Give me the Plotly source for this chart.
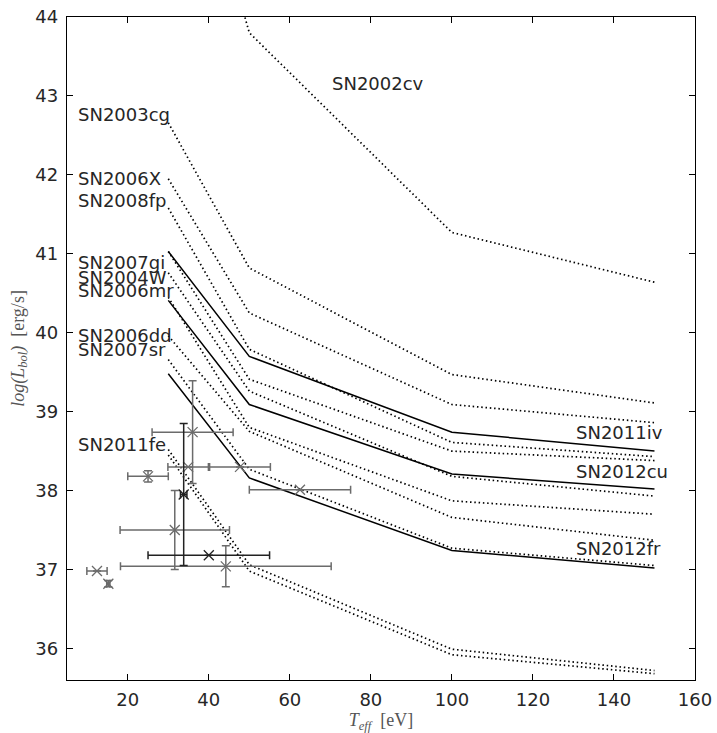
import plotly.graph_objects as go

# ---- model grid (effective temperature, eV) ----
T_grid = [30, 50, 100, 150]

# dotted model curves: log(L_bol) at T_grid
dotted_names = ["SN2002cv", "SN2003cg", "SN2006X", "SN2008fp", "SN2007gi",
                "SN2004W", "SN2006mr", "SN2006dd", "SN2007sr", "SN2011fe", "SN2011fe b"]
dotted_L = [
    [47.4, 43.80, 41.27, 40.64],
    [42.66, 40.82, 39.47, 39.11],
    [41.95, 40.25, 39.09, 38.86],
    [41.58, 39.79, 38.61, 38.43],
    [41.03, 39.41, 38.50, 38.38],
    [40.76, 39.26, 38.18, 37.93],
    [40.45, 38.80, 37.87, 37.70],
    [39.96, 38.75, 37.66, 37.37],
    [39.66, 38.27, 37.27, 37.05],
    [38.52, 37.06, 35.99, 35.72],
    [38.45, 36.98, 35.92, 35.68],
]

# solid model curves
solid_names = ["SN2011iv", "SN2012cu", "SN2012fr"]
solid_L = [
    [41.03, 39.70, 38.74, 38.50],
    [40.41, 39.09, 38.21, 38.02],
    [39.48, 38.16, 37.24, 37.02],
]

# text labels (data coordinates)
label_text = ["SN2002cv", "SN2003cg", "SN2006X", "SN2008fp", "SN2007gi", "SN2004W",
              "SN2006mr", "SN2006dd", "SN2007sr", "SN2011fe",
              "SN2011iv", "SN2012cu", "SN2012fr"]
label_T = [70.0, 7.1, 7.1, 7.1, 7.1, 7.1, 7.1, 7.1, 7.1, 7.1, 130.2, 130.2, 130.2]
label_L = [43.16, 42.76, 41.96, 41.67, 40.89, 40.70, 40.53, 39.97, 39.79, 38.59,
           38.73, 38.24, 37.26]

# observed supersoft sources (grey)
obs_T = [36.0, 34.9, 47.7, 25.0, 62.5, 31.6, 44.2, 12.4, 15.2]
obs_L = [38.74, 38.30, 38.30, 38.18, 38.01, 37.50, 37.04, 36.98, 36.82]
obs_Terr = [10.0, 5.0, 7.5, 5.0, 12.5, 13.5, 26.0, 2.5, 0.4]
obs_Lerr = [0.65, 0.0, 0.0, 0.07, 0.0, 0.5, 0.26, 0.0, 0.04]

# observed sources (black)
obs2_T = [33.8, 40.0]
obs2_L = [37.95, 37.18]
obs2_Terr = [0.8, 15.0]
obs2_Lerr = [0.90, 0.0]

fig = go.Figure()

for name, ys in zip(dotted_names, dotted_L):
    fig.add_trace(go.Scatter(x=T_grid, y=ys, mode="lines", name=name,
                             line=dict(color="black", width=1.7, dash="1.5px,2.8px"),
                             showlegend=False, hoverinfo="skip"))

for name, ys in zip(solid_names, solid_L):
    fig.add_trace(go.Scatter(x=T_grid, y=ys, mode="lines", name=name,
                             line=dict(color="black", width=1.5),
                             showlegend=False, hoverinfo="skip"))

grey = "#6b6b6b"
fig.add_trace(go.Scatter(
    x=obs_T, y=obs_L, mode="markers", showlegend=False,
    marker=dict(symbol="x-thin", size=10, line=dict(width=1.3, color=grey)),
    error_x=dict(type="data", array=obs_Terr, visible=True, color=grey, thickness=1.5, width=4),
    error_y=dict(type="data", array=obs_Lerr, visible=True, color=grey, thickness=1.5, width=4),
))
fig.add_trace(go.Scatter(
    x=obs2_T, y=obs2_L, mode="markers", showlegend=False,
    marker=dict(symbol="x-thin", size=10, line=dict(width=1.3, color="#222222")),
    error_x=dict(type="data", array=obs2_Terr, visible=True, color="#222222", thickness=1.5, width=4),
    error_y=dict(type="data", array=obs2_Lerr, visible=True, color="#222222", thickness=1.5, width=4),
))

for t, xx, yy in zip(label_text, label_T, label_L):
    fig.add_annotation(x=xx, y=yy, text=t, showarrow=False, xanchor="left", yanchor="middle",
                       font=dict(family="DejaVu Sans", size=18, color="#262626"))

axis_common = dict(showline=True, linecolor="black", linewidth=1.3, mirror="ticks",
                   ticks="inside", ticklen=6, tickwidth=1.3, tickcolor="black",
                   showgrid=False, zeroline=False, automargin=False,
                   tickfont=dict(family="DejaVu Sans", size=18, color="#262626"))

fig.update_xaxes(range=[5, 160], tickvals=[20, 40, 60, 80, 100, 120, 140, 160],
                 title=dict(text="<i>T<sub>eff</sub></i>  [eV]",
                            font=dict(family="Liberation Serif", size=18, color="#555555"),
                            standoff=6),
                 ticklabelstandoff=3, **axis_common)
fig.update_yaxes(range=[35.6, 44], tickvals=[36, 37, 38, 39, 40, 41, 42, 43, 44],
                 title=dict(text="<i>log(L<sub>bol</sub>)</i>  [erg/s]",
                            font=dict(family="Liberation Serif", size=18, color="#555555"),
                            standoff=6),
                 ticklabelstandoff=4, **axis_common)

fig.update_layout(width=717, height=733, margin=dict(l=67, r=22, t=17, b=53),
                  plot_bgcolor="white", paper_bgcolor="white")

fig.write_html("out.html")
